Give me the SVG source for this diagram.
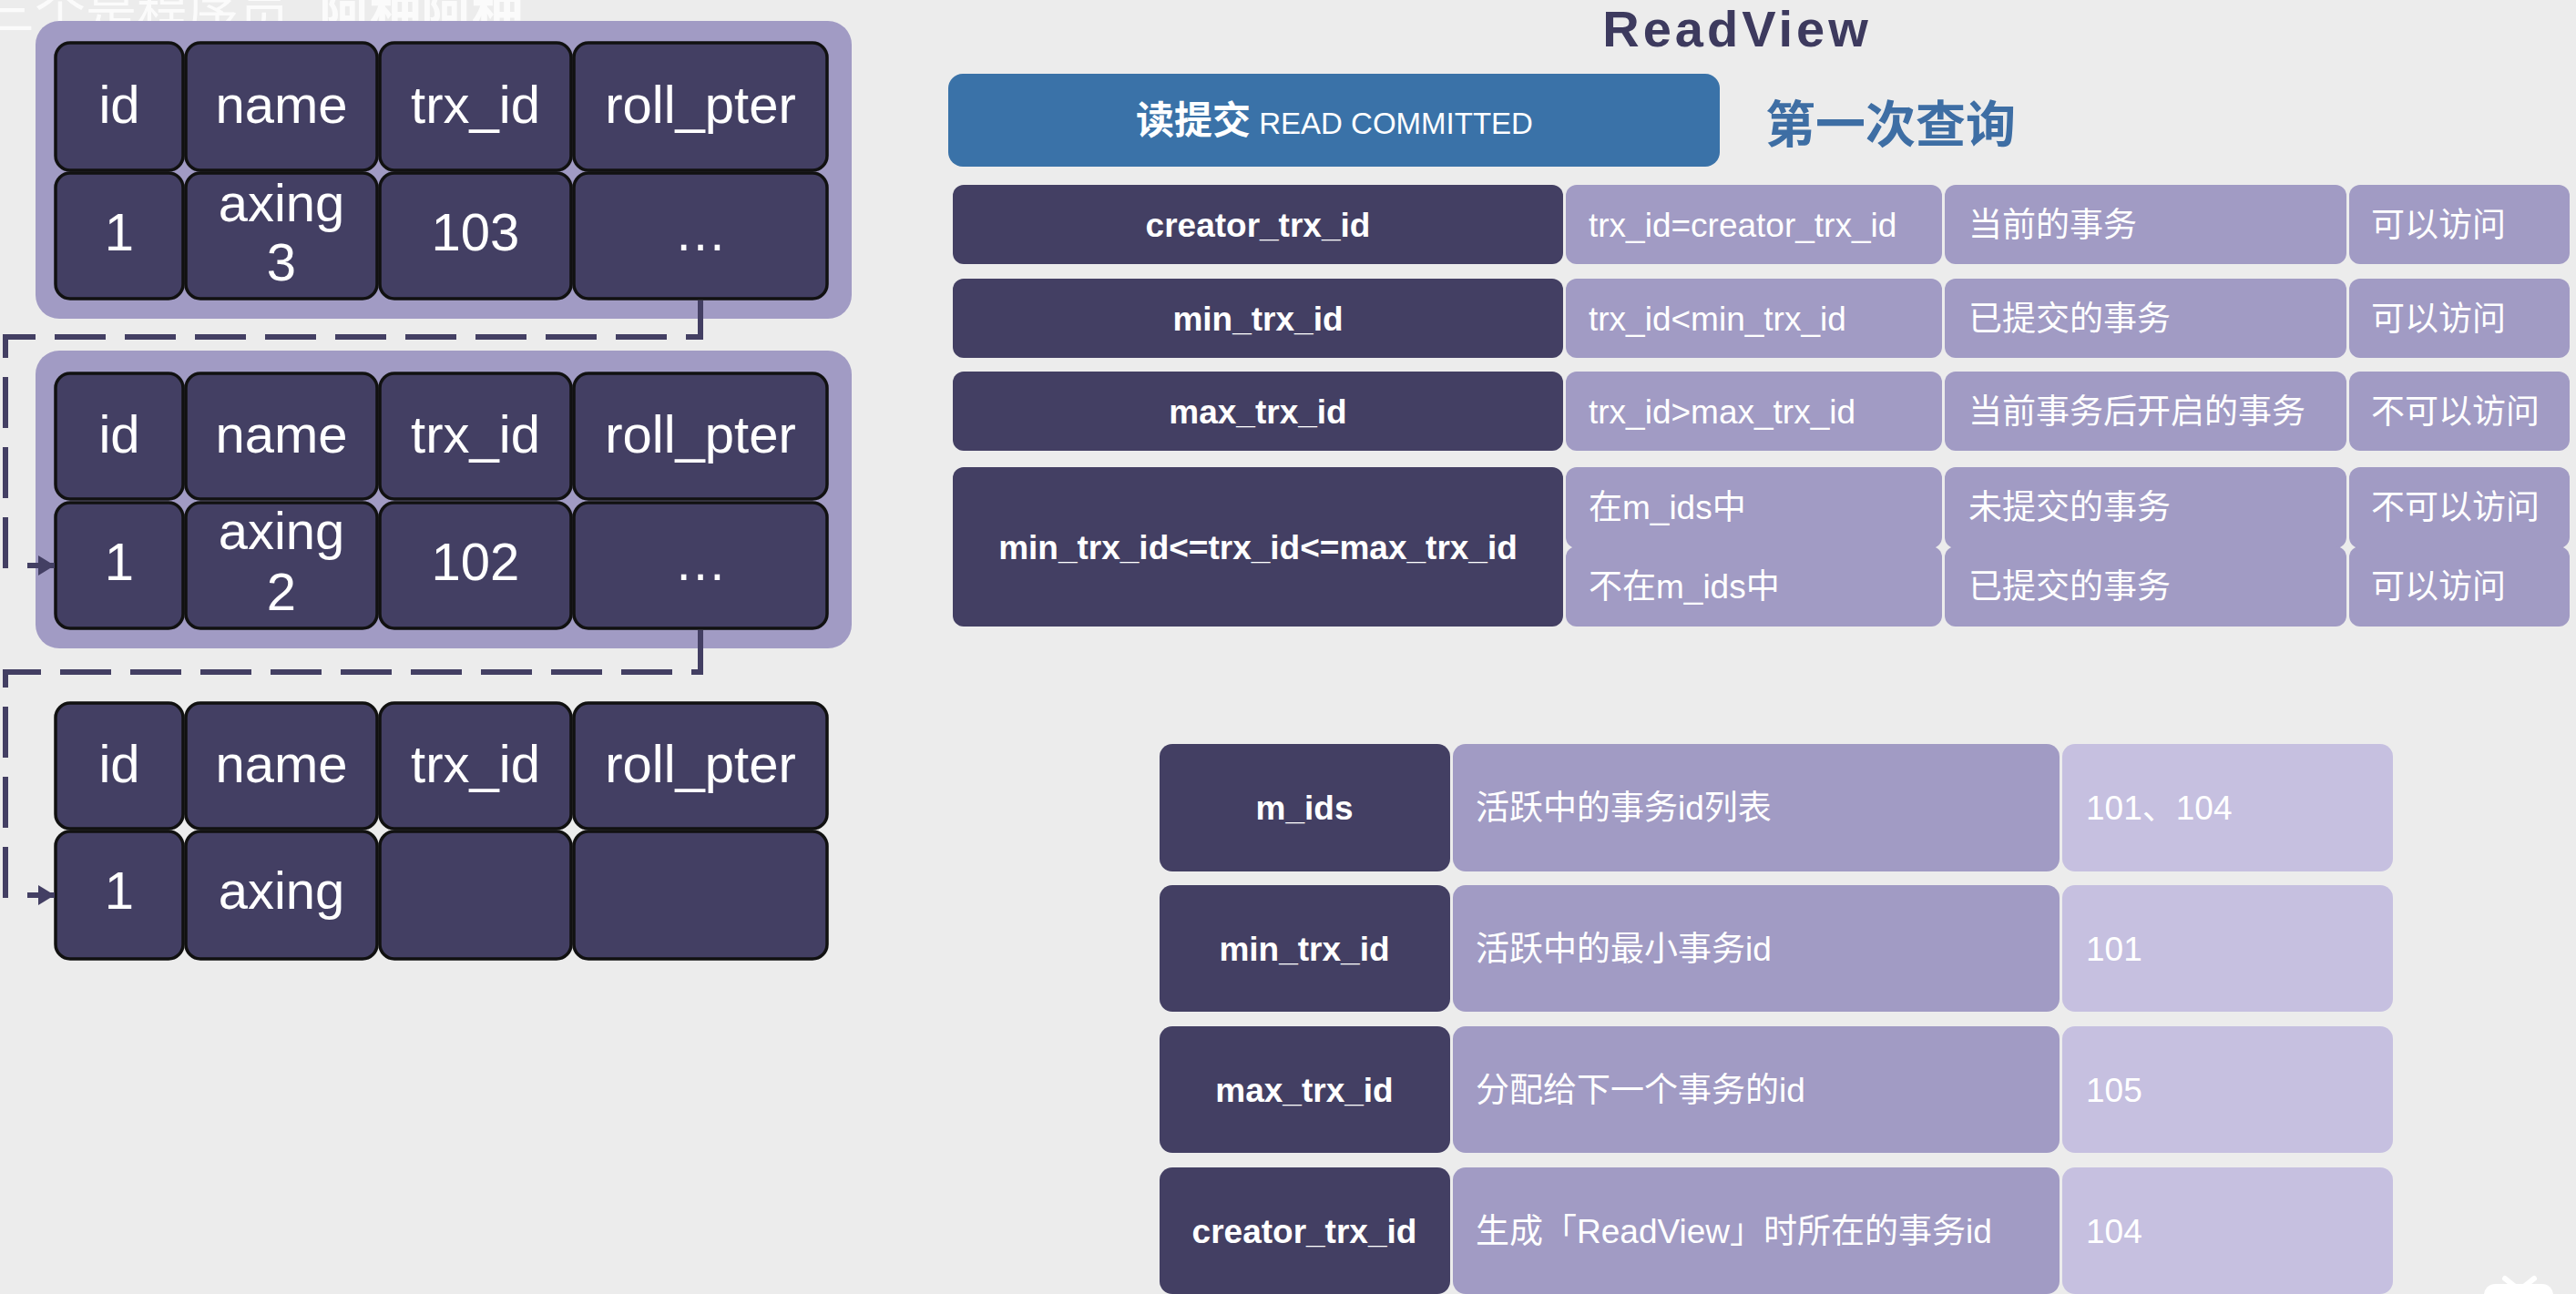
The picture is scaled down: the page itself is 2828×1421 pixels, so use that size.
<svg xmlns="http://www.w3.org/2000/svg" width="2828" height="1421" viewBox="0 0 2828 1421">
<style>
.bg{fill:#ececec}
.page{fill:#a19bc4}
.cell{fill:#433f63;stroke:#111;stroke-width:3.5}
.dk{fill:#433f63}
.lv{fill:#a19bc4}
.lt{fill:#c6c0e0}
.big{font-family:"Liberation Sans","Noto Sans CJK SC",sans-serif;font-size:58px;fill:#fff;text-anchor:middle}
.k{font-family:"Liberation Sans","Noto Sans CJK SC",sans-serif;font-size:37px;font-weight:bold;fill:#fff;text-anchor:middle}
.v{font-family:"Liberation Sans","Noto Sans CJK SC",sans-serif;font-size:37px;fill:#fff}
.conn{fill:none;stroke:#433f63;stroke-width:6;stroke-dasharray:56 21}
</style>
<defs>
<marker id="arr" markerUnits="userSpaceOnUse" markerWidth="20" markerHeight="22" refX="18" refY="11" orient="auto">
<path d="M0,0 L18,11 L0,22 Z" fill="#433f63"/>
</marker>
</defs>
<rect class="bg" x="0" y="0" width="2828" height="1421"/>

<!-- watermark -->
<g id="watermark" opacity="0.8">
<text x="-18" y="32" font-family="Noto Sans CJK SC,sans-serif" font-size="56" fill="#fff">三个是程序员</text>
<text x="350" y="32" font-family="Noto Sans CJK SC,sans-serif" font-size="56" font-weight="bold" fill="#fff">阿种阿种</text>
</g>

<!-- version 1 (trx 103) -->
<g id="record-103">
<rect class="page" x="39" y="23" width="896" height="327" rx="26"/>
<rect class="cell" x="61" y="47" width="140" height="140" rx="16"/>
<rect class="cell" x="204" y="47" width="210" height="140" rx="16"/>
<rect class="cell" x="417" y="47" width="210" height="140" rx="16"/>
<rect class="cell" x="630" y="47" width="278" height="140" rx="16"/>
<rect class="cell" x="61" y="190" width="140" height="138" rx="16"/>
<rect class="cell" x="204" y="190" width="210" height="138" rx="16"/>
<rect class="cell" x="417" y="190" width="210" height="138" rx="16"/>
<rect class="cell" x="630" y="190" width="278" height="138" rx="16"/>
<text class="big" x="131" y="135">id</text>
<text class="big" x="309" y="135">name</text>
<text class="big" x="522" y="135">trx_id</text>
<text class="big" x="769" y="135">roll_pter</text>
<text class="big" x="131" y="275">1</text>
<text class="big" x="309" y="243">axing</text>
<text class="big" x="309" y="308">3</text>
<text class="big" x="522" y="275">103</text>
<text class="big" x="769" y="275">…</text>
</g>

<!-- version 2 (trx 102) -->
<g id="record-102">
<rect class="page" x="39" y="385" width="896" height="327" rx="26"/>
<rect class="cell" x="61" y="410" width="140" height="138" rx="16"/>
<rect class="cell" x="204" y="410" width="210" height="138" rx="16"/>
<rect class="cell" x="417" y="410" width="210" height="138" rx="16"/>
<rect class="cell" x="630" y="410" width="278" height="138" rx="16"/>
<rect class="cell" x="61" y="552" width="140" height="138" rx="16"/>
<rect class="cell" x="204" y="552" width="210" height="138" rx="16"/>
<rect class="cell" x="417" y="552" width="210" height="138" rx="16"/>
<rect class="cell" x="630" y="552" width="278" height="138" rx="16"/>
<text class="big" x="131" y="497">id</text>
<text class="big" x="309" y="497">name</text>
<text class="big" x="522" y="497">trx_id</text>
<text class="big" x="769" y="497">roll_pter</text>
<text class="big" x="131" y="637">1</text>
<text class="big" x="309" y="603">axing</text>
<text class="big" x="309" y="670">2</text>
<text class="big" x="522" y="637">102</text>
<text class="big" x="769" y="637">…</text>
</g>

<!-- original record -->
<g id="record-orig">
<rect class="cell" x="61" y="772" width="140" height="138" rx="16"/>
<rect class="cell" x="204" y="772" width="210" height="138" rx="16"/>
<rect class="cell" x="417" y="772" width="210" height="138" rx="16"/>
<rect class="cell" x="630" y="772" width="278" height="138" rx="16"/>
<rect class="cell" x="61" y="913" width="140" height="140" rx="16"/>
<rect class="cell" x="204" y="913" width="210" height="140" rx="16"/>
<rect class="cell" x="417" y="913" width="210" height="140" rx="16"/>
<rect class="cell" x="630" y="913" width="278" height="140" rx="16"/>
<text class="big" x="131" y="859">id</text>
<text class="big" x="309" y="859">name</text>
<text class="big" x="522" y="859">trx_id</text>
<text class="big" x="769" y="859">roll_pter</text>
<text class="big" x="131" y="998">1</text>
<text class="big" x="309" y="998">axing</text>
</g>

<!-- connectors -->
<g id="connectors">
<path class="conn" d="M769,330 V370 H6 V621 H60" marker-end="url(#arr)"/>
<path class="conn" d="M769,692 V738 H6 V983 H60" marker-end="url(#arr)"/>
</g>

<!-- title -->
<g id="title">
<text x="1907" y="51" font-family="Liberation Sans,sans-serif" font-size="56" font-weight="bold" letter-spacing="4" fill="#3d3a5e" text-anchor="middle">ReadView</text>
</g>

<g id="isolation-banner">
<rect x="1041" y="81" width="847" height="102" rx="16" fill="#3a72a8"/>
<text x="1465" y="147" font-family="Liberation Sans,Noto Sans CJK SC,sans-serif" fill="#fff" text-anchor="middle"><tspan font-size="42" font-weight="bold">读提交</tspan><tspan font-size="33"> READ COMMITTED</tspan></text>
</g>

<g id="query-label">
<text x="1938" y="156" font-family="Noto Sans CJK SC,sans-serif" font-size="55" font-weight="bold" fill="#3e6ea4">第一次查询</text>
</g>

<!-- rules table -->
<g id="rule-creator">
<rect class="dk" x="1046" y="203" width="670" height="87" rx="12"/>
<rect class="lv" x="1719" y="203" width="413" height="87" rx="12"/>
<rect class="lv" x="2135" y="203" width="441" height="87" rx="12"/>
<rect class="lv" x="2579" y="203" width="242" height="87" rx="12"/>
<text class="k" x="1381" y="260">creator_trx_id</text>
<text class="v" x="1744" y="260">trx_id=creator_trx_id</text>
<text class="v" x="2161" y="260">当前的事务</text>
<text class="v" x="2603" y="260">可以访问</text>
</g>
<g id="rule-min">
<rect class="dk" x="1046" y="306" width="670" height="87" rx="12"/>
<rect class="lv" x="1719" y="306" width="413" height="87" rx="12"/>
<rect class="lv" x="2135" y="306" width="441" height="87" rx="12"/>
<rect class="lv" x="2579" y="306" width="242" height="87" rx="12"/>
<text class="k" x="1381" y="363">min_trx_id</text>
<text class="v" x="1744" y="363">trx_id&lt;min_trx_id</text>
<text class="v" x="2161" y="363">已提交的事务</text>
<text class="v" x="2603" y="363">可以访问</text>
</g>
<g id="rule-max">
<rect class="dk" x="1046" y="408" width="670" height="87" rx="12"/>
<rect class="lv" x="1719" y="408" width="413" height="87" rx="12"/>
<rect class="lv" x="2135" y="408" width="441" height="87" rx="12"/>
<rect class="lv" x="2579" y="408" width="242" height="87" rx="12"/>
<text class="k" x="1381" y="465">max_trx_id</text>
<text class="v" x="1744" y="465">trx_id&gt;max_trx_id</text>
<text class="v" x="2161" y="465">当前事务后开启的事务</text>
<text class="v" x="2603" y="465">不可以访问</text>
</g>
<g id="rule-range">
<rect class="dk" x="1046" y="513" width="670" height="175" rx="12"/>
<rect class="lv" x="1719" y="513" width="413" height="89" rx="12"/>
<rect class="lv" x="2135" y="513" width="441" height="89" rx="12"/>
<rect class="lv" x="2579" y="513" width="242" height="89" rx="12"/>
<rect class="lv" x="1719" y="600" width="413" height="88" rx="12"/>
<rect class="lv" x="2135" y="600" width="441" height="88" rx="12"/>
<rect class="lv" x="2579" y="600" width="242" height="88" rx="12"/>
<text class="k" x="1381" y="614">min_trx_id&lt;=trx_id&lt;=max_trx_id</text>
<text class="v" x="1744" y="570">在m_ids中</text>
<text class="v" x="2161" y="570">未提交的事务</text>
<text class="v" x="2603" y="570">不可以访问</text>
<text class="v" x="1744" y="657">不在m_ids中</text>
<text class="v" x="2161" y="657">已提交的事务</text>
<text class="v" x="2603" y="657">可以访问</text>
</g>

<!-- ReadView fields -->
<g id="field-m_ids">
<rect class="dk" x="1273" y="817" width="319" height="140" rx="14"/>
<rect class="lv" x="1595" y="817" width="666" height="140" rx="14"/>
<rect class="lt" x="2264" y="817" width="363" height="140" rx="14"/>
<text class="k" x="1432" y="900">m_ids</text>
<text class="v" x="1620" y="900">活跃中的事务id列表</text>
<text class="v" x="2290" y="900">101、104</text>
</g>
<g id="field-min_trx_id">
<rect class="dk" x="1273" y="972" width="319" height="139" rx="14"/>
<rect class="lv" x="1595" y="972" width="666" height="139" rx="14"/>
<rect class="lt" x="2264" y="972" width="363" height="139" rx="14"/>
<text class="k" x="1432" y="1055">min_trx_id</text>
<text class="v" x="1620" y="1055">活跃中的最小事务id</text>
<text class="v" x="2290" y="1055">101</text>
</g>
<g id="field-max_trx_id">
<rect class="dk" x="1273" y="1127" width="319" height="139" rx="14"/>
<rect class="lv" x="1595" y="1127" width="666" height="139" rx="14"/>
<rect class="lt" x="2264" y="1127" width="363" height="139" rx="14"/>
<text class="k" x="1432" y="1210">max_trx_id</text>
<text class="v" x="1620" y="1210">分配给下一个事务的id</text>
<text class="v" x="2290" y="1210">105</text>
</g>
<g id="field-creator_trx_id">
<rect class="dk" x="1273" y="1282" width="319" height="139" rx="14"/>
<rect class="lv" x="1595" y="1282" width="666" height="139" rx="14"/>
<rect class="lt" x="2264" y="1282" width="363" height="139" rx="14"/>
<text class="k" x="1432" y="1365">creator_trx_id</text>
<text class="v" x="1620" y="1365">生成「ReadView」时所在的事务id</text>
<text class="v" x="2290" y="1365">104</text>
</g>

<g id="corner-icon" fill="#fff">
<rect x="2727" y="1410" width="76" height="40" rx="12"/>
<path d="M2750,1404 L2760,1412" stroke="#fff" stroke-width="6" stroke-linecap="round"/>
<path d="M2782,1404 L2772,1412" stroke="#fff" stroke-width="6" stroke-linecap="round"/>
</g>
</svg>
